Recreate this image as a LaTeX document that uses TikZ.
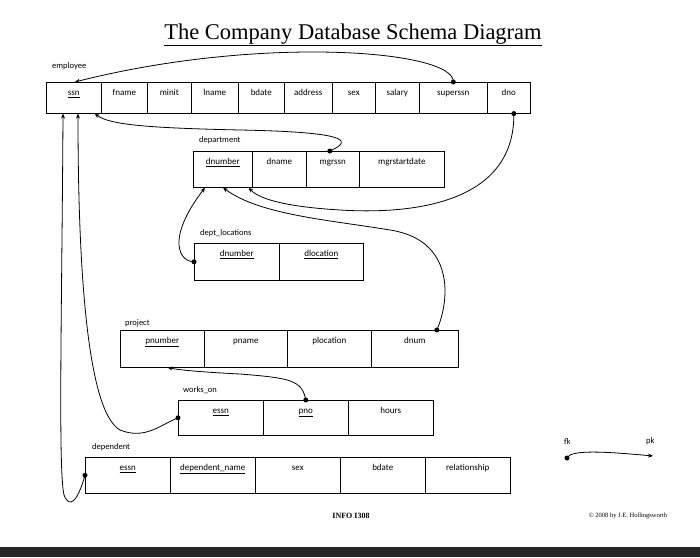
\documentclass[tikz,border=0pt]{standalone}
\usepackage{fontspec}
\setmainfont{Carlito}
\newfontfamily\tms{Liberation Serif}
\usetikzlibrary{arrows.meta}
\tikzset{
  cell/.style={draw,line width=0.6pt,anchor=north west,inner sep=0pt,text height=13pt,font=\fontsize{9}{10}\selectfont,align=center},
  lbl/.style={anchor=west,inner sep=0pt,font=\fontsize{8.5}{9}\selectfont},
  con/.style={line width=0.8pt,-{Stealth[length=5pt,width=4pt]}},
  dot/.style={circle,fill,inner sep=0pt,minimum size=5pt}
}
\newcommand\mkcell[6]{%
  \pgfmathsetmacro\cw{#3-#2}\pgfmathsetmacro\cd{#5-#4-13}%
  \node[cell,minimum width=\cw pt,text depth=\cd pt] (#1) at (#2,#4) {#6};}
\begin{document}
\begin{tikzpicture}[x=1pt,y=-1pt]
\useasboundingbox (0,0) rectangle (700,557);
\fill[black!85] (0,547) rectangle (700,557);
\node[font=\tms\fontsize{22.5}{25}\selectfont] (title) at (353,35) {\underline{The Company Database Schema Diagram}};
% employee
\node[lbl] (lemp) at (52,66) {employee};
\mkcell{essnk}{46}{101}{82}{113}{\underline{ssn}}
\mkcell{efn}{101}{147}{82}{113}{fname}
\mkcell{emi}{147}{191}{82}{113}{minit}
\mkcell{eln}{191}{238}{82}{113}{lname}
\mkcell{ebd}{238}{284}{82}{113}{bdate}
\mkcell{ead}{284}{332}{82}{113}{address}
\mkcell{esx}{332}{375}{82}{113}{sex}
\mkcell{esa}{375}{419}{82}{113}{salary}
\mkcell{esu}{419}{487}{82}{113}{superssn}
\mkcell{edn}{487}{530}{82}{113}{dno}
% department
\node[lbl] (ldep) at (199,140) {department};
\mkcell{ddn}{193}{252}{151}{187}{\underline{dnumber}}
\mkcell{dna}{252}{306}{151}{187}{dname}
\mkcell{dmg}{306}{359}{151}{187}{mgrssn}
\mkcell{dms}{359}{444}{151}{187}{mgrstartdate}
% dept_locations
\node[lbl] (lloc) at (200,233) {dept\_locations};
\mkcell{ldn}{194}{279}{243}{280}{\underline{dnumber}}
\mkcell{llo}{279}{363}{243}{280}{\underline{dlocation}}
% project
\node[lbl] (lproj) at (125,323) {project};
\mkcell{ppn}{120}{204}{330}{367}{\underline{pnumber}}
\mkcell{pna}{204}{287}{330}{367}{pname}
\mkcell{plo}{287}{371}{330}{367}{plocation}
\mkcell{pdn}{371}{458}{330}{367}{dnum}
% works_on
\node[lbl] (lwo) at (183,390) {works\_on};
\mkcell{wes}{178}{263}{400}{435}{\underline{essn}}
\mkcell{wpn}{263}{348}{400}{435}{\underline{pno}}
\mkcell{who}{348}{433}{400}{435}{hours}
% dependent
\node[lbl] (ldp) at (92,447) {dependent};
\mkcell{des}{85}{170}{457}{493}{\underline{essn}}
\mkcell{ddnm}{170}{255}{457}{493}{\underline{dependent\_name}}
\mkcell{dsx}{255}{340}{457}{493}{sex}
\mkcell{dbd}{340}{425}{457}{493}{bdate}
\mkcell{drl}{425}{510}{457}{493}{relationship}
% legend
\node[lbl] (fk) at (564,441) {fk};
\node[lbl] (pk) at (646,441) {pk};
\node[dot] (fkd) at (567,458) {};
\coordinate (pka) at (653,456);
\draw[con] (fkd.center) .. controls (570,450) and (600,451) .. (pka);
\node[font=\tms\bfseries\fontsize{8}{9}\selectfont] (info) at (351,516) {INFO I308};
\node[font=\tms\fontsize{6.5}{8}\selectfont] (copy) at (628,516) {\textcopyright{} 2008 by J.E. Hollingsworth};
% connectors
\node[dot] (d1) at (esu.north) {};
\draw[con] (d1.center) .. controls (455,50) and (260,35) .. ([xshift=1pt]essnk.north);
\node[dot] (d2) at ([xshift=-3pt]dmg.north) {};
\draw[con] (d2.center) .. controls (355,140) and (345,132) .. (240,130) .. controls (150,128) and (110,125) .. ([xshift=-7pt]essnk.south east);
\node[dot] (d3) at ([xshift=5pt]edn.south) {};
\draw[con] (d3.center) .. controls (515,200) and (420,215) .. (340,210) .. controls (290,207) and (260,200) .. ([xshift=-4pt]ddn.south east);
\node[dot] (d4) at ([xshift=22pt]pdn.north) {};
\draw[con] (d4.center) .. controls (450,300) and (455,240) .. (390,230) .. controls (330,220) and (260,215) .. ([xshift=30pt]ddn.south west);
\node[dot] (d5) at (ldn.west) {};
\draw[con] (d5.center) .. controls (180,262) and (165,240) .. ([xshift=12pt]ddn.south west);
\node[dot] (d6) at (wpn.north) {};
\draw[con] (d6.center) .. controls (302,380) and (290,378) .. (240,374) .. controls (200,372) and (180,370) .. ([xshift=-37pt]ppn.south east);
\node[dot] (d7) at (wes.west) {};
\draw[con] (d7.center) .. controls (160,425) and (145,440) .. (120,430) .. controls (85,410) and (78,250) .. ([xshift=32pt]essnk.south west);
\node[dot] (d8) at (des.west) {};
\draw[con] (d8.center) .. controls (78,500) and (70,510) .. (64,495) .. controls (58,470) and (62,300) .. ([xshift=17pt]essnk.south west);
\end{tikzpicture}
\end{document}
